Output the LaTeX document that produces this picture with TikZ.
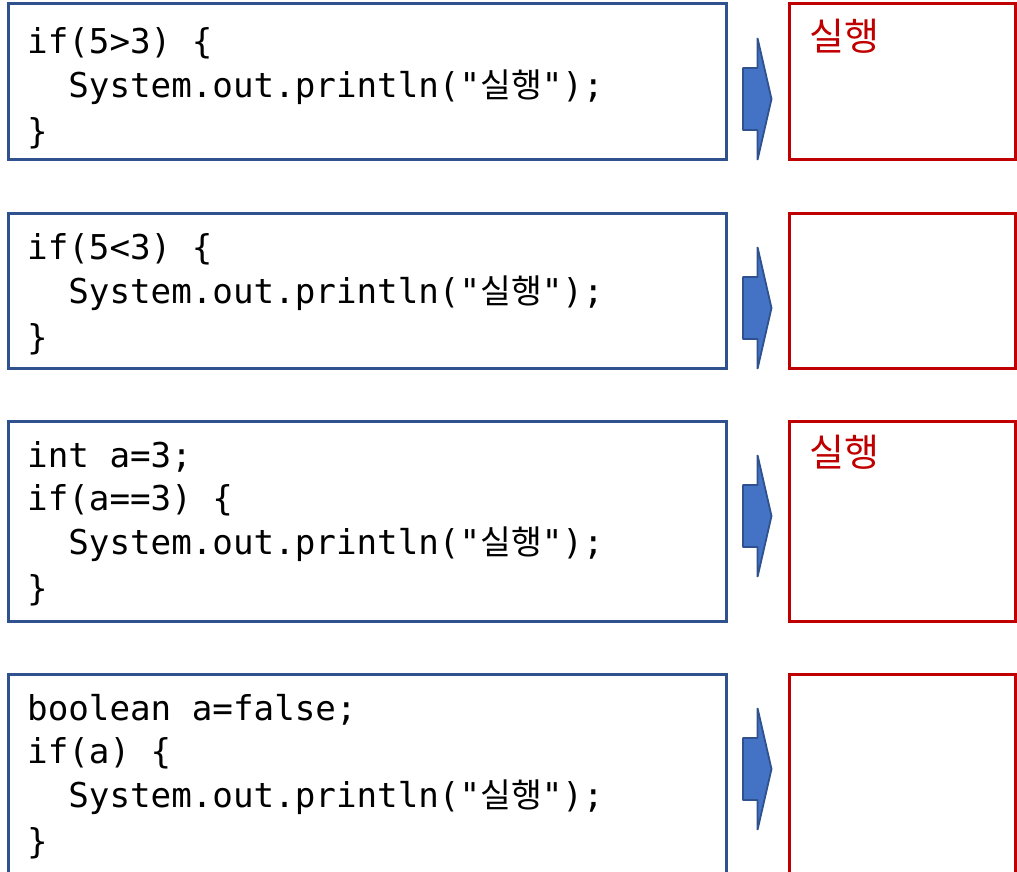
\documentclass[tikz,border=0pt]{standalone}
\usepackage{fontspec}
\newfontfamily\codefont{DejaVu Sans Mono}
\newfontfamily\krfont{Noto Sans CJK KR}
\definecolor{boxblue}{HTML}{2F528F}
\definecolor{arrowfill}{HTML}{4472C4}
\definecolor{outred}{HTML}{C00000}
% Hangul inside the monospaced code lines
\newcommand\ko[1]{{\krfont\fontsize{33.5}{33.5}\selectfont #1}}
\begin{document}
\begin{tikzpicture}[x=1pt,y=-1pt,
  codebox/.style={draw=boxblue, line width=3pt, inner sep=0pt, outer sep=0pt,
    anchor=north west, minimum width=718pt},
  outbox/.style={draw=outred, line width=3pt, inner sep=0pt, outer sep=0pt,
    anchor=north west, minimum width=226pt},
  codeline/.style={anchor=base west, inner sep=0pt,
    font=\codefont\fontsize{34.2}{40}\selectfont},
  outlabel/.style={anchor=base west, inner sep=0pt, text=outred,
    font=\krfont\fontsize{38}{40}\selectfont},
  flow/.style={draw=boxblue, fill=arrowfill, line width=1.8pt, line join=bevel}]
\useasboundingbox (0,0) rectangle (1017,872);
\clip (0,0) rectangle (1017,872);

% code boxes
\node[codebox, minimum height=155pt] (code1) at (8,4) {};
\node[codebox, minimum height=155pt] (code2) at (8,213) {};
\node[codebox, minimum height=200pt] (code3) at (8,421) {};
\node[codebox, minimum height=240pt] (code4) at (8,674) {};

% output boxes
\node[outbox, minimum height=155pt] (out1) at (789,4) {};
\node[outbox, minimum height=155pt] (out2) at (789,213) {};
\node[outbox, minimum height=200pt] (out3) at (789,421) {};
\node[outbox, minimum height=240pt] (out4) at (789,674) {};

% block arrows between each code box and its output box
\foreach \i in {1,2,3,4}{
  \begin{scope}[shift={(code\i.north east)}]
    \draw[flow] (17,64) -- (31.5,64) -- (31.5,34) -- (45.5,95) -- (31.5,156)
      -- (31.5,126) -- (17,126) -- cycle;
  \end{scope}
}

% code, box 1
\node[codeline] (c11) at (27,53.5) {if(5>3) \{};
\node[codeline] (c12) at (27,97.5) {\phantom{xx}System.out.println("\ko{실행}");};
\node[codeline] (c13) at (27,143) {\}};

% code, box 2
\node[codeline] (c21) at (27,259.5) {if(5<3) \{};
\node[codeline] (c22) at (27,303.5) {\phantom{xx}System.out.println("\ko{실행}");};
\node[codeline] (c23) at (27,349) {\}};

% code, box 3
\node[codeline] (c31) at (27,467.5) {int a=3;};
\node[codeline] (c32) at (27,510.5) {if(a==3) \{};
\node[codeline] (c33) at (27,554.5) {\phantom{xx}System.out.println("\ko{실행}");};
\node[codeline] (c34) at (27,600) {\}};

% code, box 4
\node[codeline] (c41) at (27,720.5) {boolean a=false;};
\node[codeline] (c42) at (27,763.5) {if(a) \{};
\node[codeline] (c43) at (27,807.5) {\phantom{xx}System.out.println("\ko{실행}");};
\node[codeline] (c44) at (27,853) {\}};

% printed output
\node[outlabel] (o1) at (809,51) {실행};
\node[outlabel] (o3) at (809,466) {실행};
\end{tikzpicture}
\end{document}
